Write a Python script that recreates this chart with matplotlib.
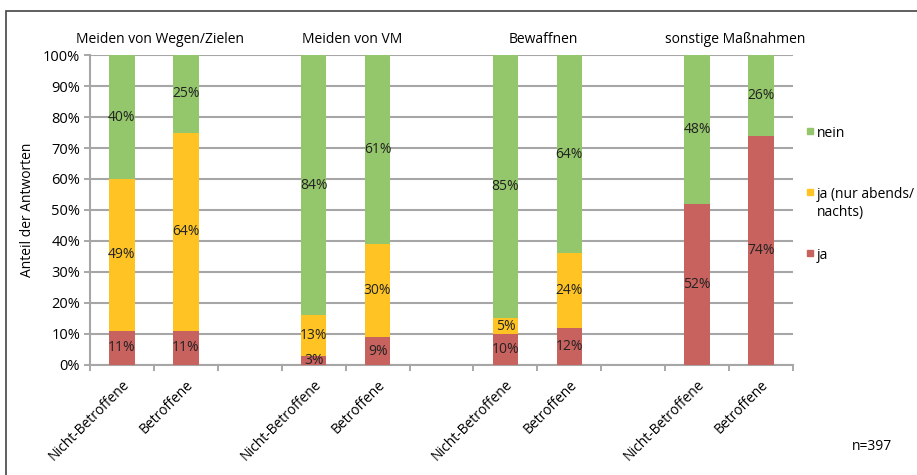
import matplotlib.pyplot as plt
import matplotlib.patches as mpatches
import numpy as np

plt.rcParams['font.family'] = ['Open Sans', 'DejaVu Sans']

groups = ['Meiden von Wegen/Zielen', 'Meiden von VM', 'Bewaffnen', 'sonstige Maßnahmen']
respondents = ['Nicht-Betroffene', 'Betroffene']
series = ['ja', 'ja (nur abends/\nnachts)', 'nein']
ja = [11, 11, 3, 9, 10, 12, 52, 74]
ja_abends = [49, 64, 13, 30, 5, 24, 0, 0]
nein = [40, 25, 84, 61, 85, 64, 48, 26]
n_total = 397

colors = ['#C8625E', '#FFC424', '#94C66B']

fig = plt.figure(figsize=(9.17, 4.75), dpi=100)
ax = fig.add_axes([0.0981, 0.2316, 0.7667, 0.6526])

# positions: two bars per group, one empty slot between groups
pos = []
for g in range(len(groups)):
    pos += [g * 3, g * 3 + 1]
pos = np.array(pos)

values = [ja, ja_abends, nein]
bottom = np.zeros(len(pos))
for vals, col in zip(values, colors):
    vals = np.array(vals, dtype=float)
    ax.bar(pos, vals, width=0.4, bottom=bottom, color=col, zorder=3)
    for x, b, v in zip(pos, bottom, vals):
        if v > 0:
            ax.text(x, b + v / 2, f'{int(v)}%', ha='center', va='center',
                    fontsize=10, color='#222222', zorder=4)
    bottom += vals

ax.set_xlim(-0.5, 10.5)
ax.set_ylim(0, 100)
ax.set_yticks(range(0, 101, 10))
ax.set_yticklabels([f'{v}%' for v in range(0, 101, 10)], fontsize=10.5)
ax.set_xticks(pos)
ax.set_xticklabels(respondents * len(groups), rotation=45, ha='right',
                   rotation_mode='anchor', fontsize=10)
ax.set_xticks(np.arange(-0.5, 11, 1), minor=True)
ax.tick_params(axis='x', which='major', length=0, pad=9)
ax.tick_params(axis='x', which='minor', length=4, color='#999999', width=1.2)
ax.tick_params(axis='y', length=4, color='#999999', width=1.2, pad=3)

ax.grid(axis='y', color='#A6A6A6', linewidth=1.5, zorder=0)
ax.set_axisbelow(True)
for s in ['top', 'right']:
    ax.spines[s].set_visible(False)
for s in ['left', 'bottom']:
    ax.spines[s].set_color('#A6A6A6')
    ax.spines[s].set_linewidth(1.5)

ax.set_ylabel('Anteil der Antworten', fontsize=10, labelpad=6)

for g, name in enumerate(groups):
    ax.text(g * 3 + 0.6, 102.5, name, ha='center', va='bottom', fontsize=10)

# legend
leg_y = [133, 194, 255]
for lab, col, y in zip(series[::-1], colors[::-1], leg_y):
    fy = 1 - y / 475
    fig.patches.append(mpatches.Rectangle((807 / 917, 1 - 134 / 475 + (133 - y) / 475), 6 / 917, 6 / 475,
                                          transform=fig.transFigure, color=col))
    fig.text(817 / 917, fy + 7 / 475, lab, ha='left', va='top', fontsize=10,
             linespacing=1.3)

fig.text(872 / 917, 1 - 447 / 475, f'n={n_total}', ha='center', va='center', fontsize=10)

# outer frame
fig.patches.append(mpatches.Rectangle((6 / 917, -0.1), 1.2, 1 - 11 / 475 + 0.1,
                                      transform=fig.transFigure, fill=False,
                                      edgecolor='#444444', linewidth=1.2))

fig.savefig('out.png', dpi=100)
